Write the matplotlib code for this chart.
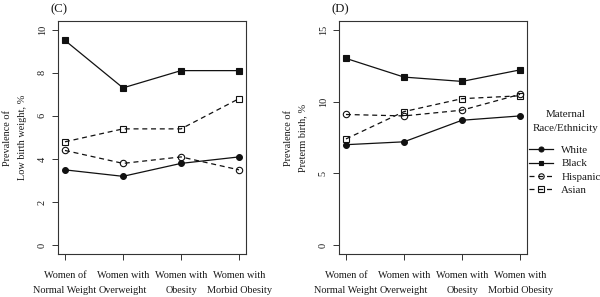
import matplotlib
matplotlib.use("Agg")
import matplotlib.pyplot as plt

plt.rcParams['font.family'] = ['Liberation Serif', 'DejaVu Serif']

categories = ["Women of\nNormal Weight", "Women with\nOverweight", "Women with\nObesity", "Women with\nMorbid Obesity"]
groups = ["White", "Black", "Hispanic", "Asian"]

lbw_white = [3.5, 3.2, 3.8, 4.1]
lbw_black = [9.5, 7.3, 8.1, 8.1]
lbw_hispanic = [4.4, 3.8, 4.1, 3.5]
lbw_asian = [4.8, 5.4, 5.4, 6.8]

ptb_white = [7.0, 7.2, 8.7, 9.0]
ptb_black = [13.0, 11.7, 11.4, 12.2]
ptb_hispanic = [9.1, 9.0, 9.4, 10.5]
ptb_asian = [7.4, 9.3, 10.2, 10.4]

lbw_yticks = [0, 2, 4, 6, 8, 10]
ptb_yticks = [0, 5, 10, 15]

styles = {
    "White": dict(marker='o', linestyle='-', mfc='#111111', ms=4.2),
    "Black": dict(marker='s', linestyle='-', mfc='#111111', ms=4.2),
    "Hispanic": dict(marker='o', linestyle=(0, (4, 3)), mfc='none', ms=4.6),
    "Asian": dict(marker='s', linestyle=(0, (4, 3)), mfc='none', ms=4.6),
}

TXT = '#1a1a1a'
FS = 7.4
LFS = 7.9

fig = plt.figure(figsize=(6.0, 2.97), dpi=100)
W, H = 600, 297
def rect(x0, x1, top, bot):
    return [x0 / W, 1 - bot / H, (x1 - x0) / W, (bot - top) / H]

axC = fig.add_axes(rect(58, 246, 21, 254))
axD = fig.add_axes(rect(339, 527, 21, 254))

x = list(range(1, len(categories) + 1))

def draw(ax, data, yticks, ylabel, title):
    for g, vals in zip(groups, data):
        st = styles[g]
        ax.plot(x, vals, color='#111111', lw=0.9, linestyle=st['linestyle'],
                marker=st['marker'], ms=st['ms'], mfc=st['mfc'], mec='#111111', mew=0.8,
                label=g)
    lo, hi = yticks[0], yticks[-1]
    pad = (hi - lo) * 0.04
    ax.set_ylim(lo - pad, hi + pad)
    ax.set_xlim(1 - 0.12, 4 + 0.12)
    ax.set_yticks(yticks)
    ax.set_yticklabels([str(v) for v in yticks], rotation=90, va='center', fontsize=FS, color=TXT)
    ax.set_xticks(x)
    ax.set_xticklabels(categories, fontsize=FS, color=TXT, linespacing=1.85)
    ax.tick_params(axis='both', length=4, width=0.7, color='#333333')
    ax.tick_params(axis='x', pad=8.5)
    ax.tick_params(axis='y', pad=4)
    for s in ax.spines.values():
        s.set_linewidth(0.8)
        s.set_color('#333333')
    ax.set_ylabel(ylabel, fontsize=FS, color=TXT, linespacing=1.8, labelpad=8)
    ax.text(-0.04, 1.025, title, transform=ax.transAxes, fontsize=9.2, color=TXT,
            ha='left', va='bottom')

draw(axC, [lbw_white, lbw_black, lbw_hispanic, lbw_asian], lbw_yticks,
     "Prevalence of\nLow birth weight, %", "(C)")
draw(axD, [ptb_white, ptb_black, ptb_hispanic, ptb_asian], ptb_yticks,
     "Prevalence of\nPreterm birth, %", "(D)")

fig.text(566 / W, 1 - 121.5 / H, "Maternal\nRace/Ethnicity", fontsize=LFS, color=TXT,
         ha='center', va='center', multialignment='center', linespacing=1.75)

handles, labels = axD.get_legend_handles_labels()
leg = fig.legend(handles, labels, loc='upper left', bbox_to_anchor=(529 / W, 1 - 145.5 / H),
                 frameon=False, fontsize=LFS, handlelength=2.2, handletextpad=0.75,
                 labelspacing=0.33, borderaxespad=0, borderpad=0, markerscale=0.85)
for t in leg.get_texts():
    t.set_color(TXT)

fig.savefig("out.png", dpi=100, facecolor='white')
